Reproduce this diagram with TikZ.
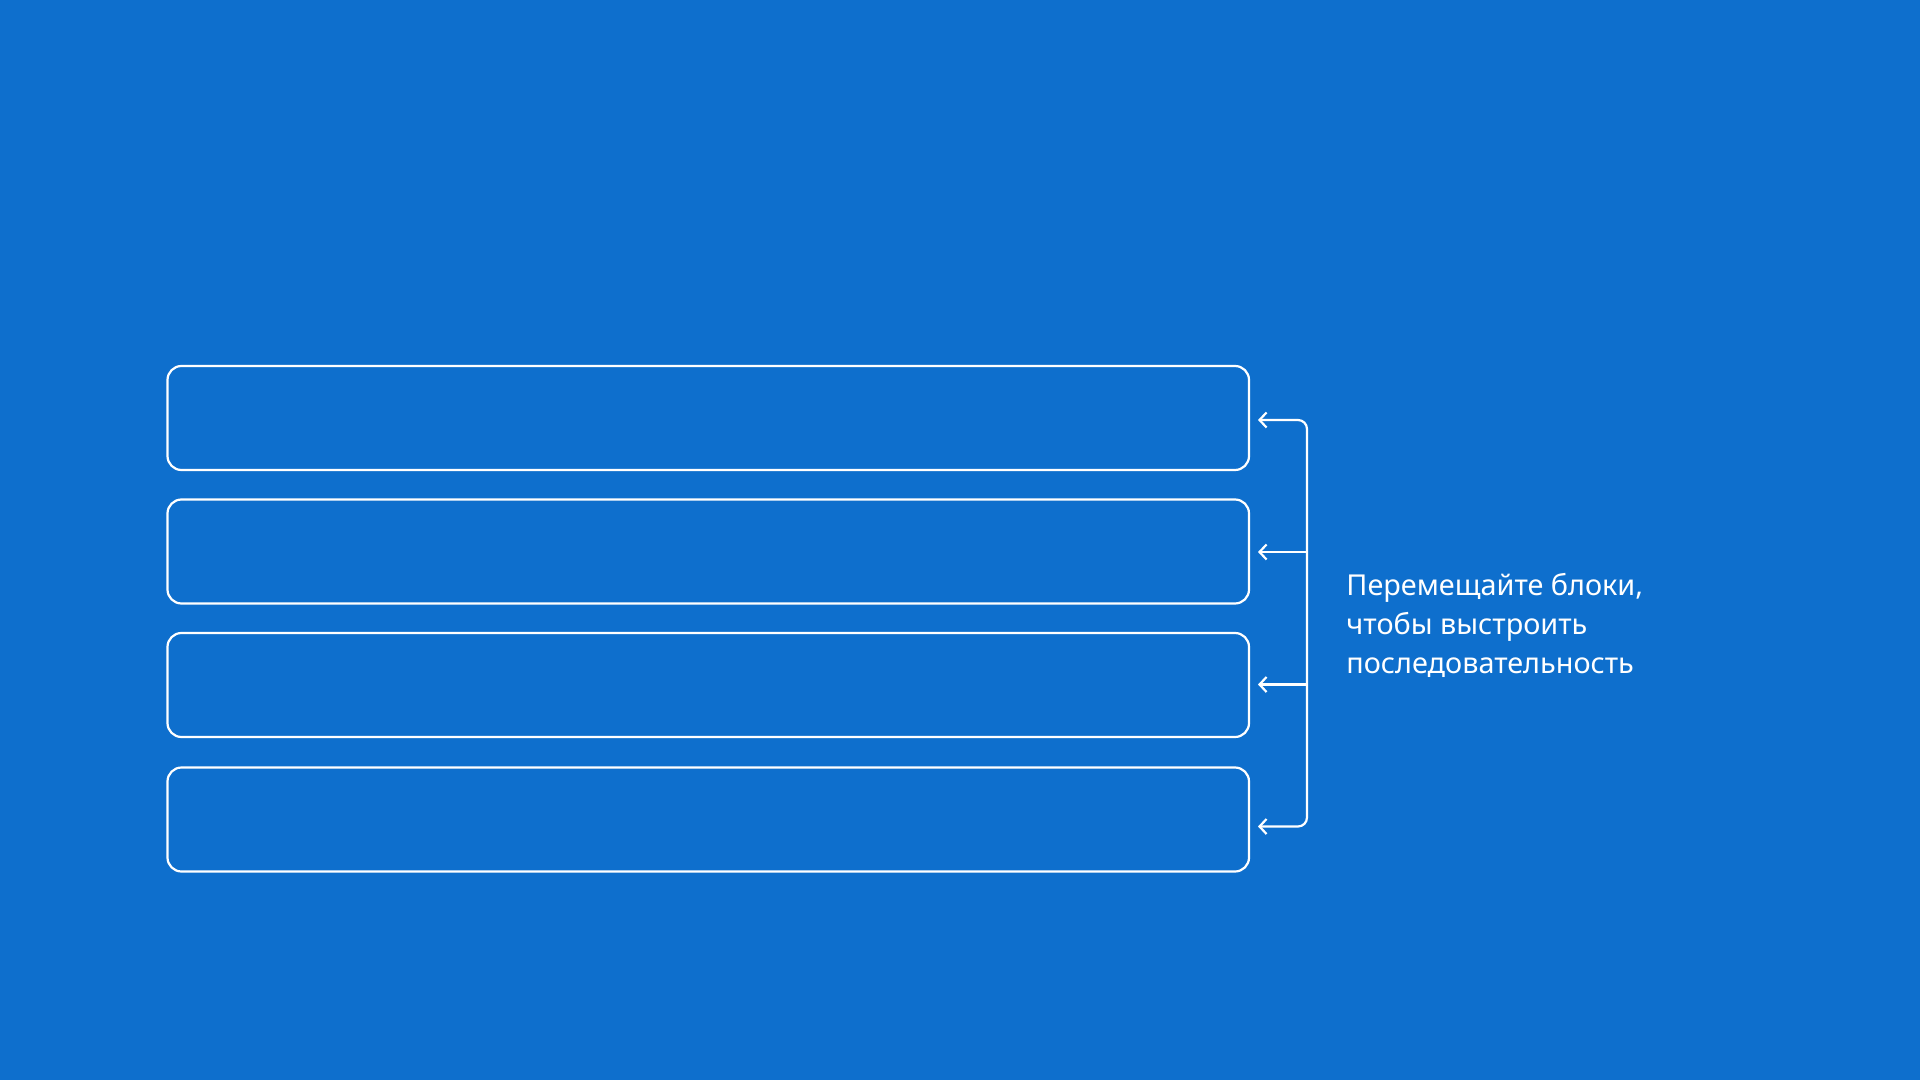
\documentclass[tikz,border=0pt]{standalone}
\usepackage{fontspec}
\setmainfont{Noto Sans}
\usetikzlibrary{arrows.meta}
\definecolor{bg}{HTML}{0E6FCD}
\begin{document}
\begin{tikzpicture}[x=0.5pt,y=-0.5pt,
  box/.style={draw=white,line width=1.1pt,rounded corners=7pt,minimum width=540.75pt,minimum height=52pt,inner sep=0pt},
  conn/.style={draw=white,line width=1.1pt},
  >={Straight Barb[length=3.5pt,width=7.5pt,line width=1.1pt]},
  lbl/.style={text=white,font=\fontsize{14.4pt}{19.5pt}\selectfont,anchor=base west,inner sep=0pt}]
\fill[bg] (0,0) rectangle (1920,1080);
\useasboundingbox (0,0) rectangle (1920,1080);
\node[box] (b1) at (708.25,418) {};
\node[box] (b2) at (708.25,551.5) {};
\node[box] (b3) at (708.25,685) {};
\node[box] (b4) at (708.25,819.5) {};
\coordinate (a1) at (1258,420);
\coordinate (a2) at (1258,552);
\coordinate (a3) at (1258,684.5);
\coordinate (a4) at (1258,826.5);
\coordinate (k1) at (1307,420);
\coordinate (k2) at (1307,552);
\coordinate (k3) at (1307,684.5);
\coordinate (k4) at (1307,826.5);
\draw[conn,<->,rounded corners=4.5pt] (a1) -- (k1) -- (k4) -- (a4);
\draw[conn,<-] (a2) -- (k2);
\draw[conn,<-] (a3) -- (k3);
\node[lbl] (t1) at (1346,595) {Перемещайте блоки,};
\node[lbl] (t2) at (1346,634) {чтобы выстроить};
\node[lbl] (t3) at (1346,673) {последовательность};
\end{tikzpicture}
\end{document}
